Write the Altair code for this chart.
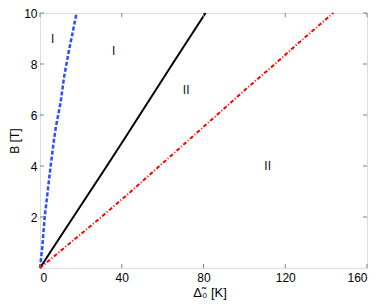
import altair as alt
import pandas as pd

# Blue dashed boundary
blue_x = [0, 1.1, 2.3, 5.2, 6.8, 7.7, 10.1, 11.8, 14.1, 17.9]
blue_y = [0, 0.8, 2.0, 4.0, 5.0, 5.5, 6.5, 7.5, 8.5, 10.0]
# Black solid boundary
black_x = [0, 8.1, 16.3, 24.5, 32.7, 40.8, 48.8, 56.8, 64.8, 72.9, 81.0]
black_y = [0, 1, 2, 3, 4, 5, 6, 7, 8, 9, 10]
# Red dash-dot boundary
red_x = [0, 15.0, 30.0, 44.5, 58.5, 72.5, 86.5, 100.5, 115.0, 129.0, 143.5]
red_y = [0, 1, 2, 3, 4, 5, 6, 7, 8, 9, 10]

# Region labels
lab_text = ["I", "I", "II", "II"]
lab_x = [6.2, 36.0, 71.5, 111.4]
lab_y = [9.0, 8.5, 7.0, 4.0]

x_ticks = [0, 40, 80, 120, 160]
y_ticks = [2, 4, 6, 8, 10]

W, H = 327, 255
FONT = "Liberation Sans"

xs = alt.Scale(domain=[0, 160], nice=False, zero=False)
ys = alt.Scale(domain=[0, 10], nice=False, zero=False)

def line_df(xv, yv):
    return pd.DataFrame({"x": xv, "y": yv, "o": list(range(len(xv)))})

xaxis = alt.Axis(values=x_ticks, title="Δ̃₀ [K]", ticks=False, domain=False, grid=False,
                 labelFont=FONT, labelFontSize=12, labelColor="black", labelPadding=4,
                 titleFont=FONT, titleFontSize=13, titleFontWeight="normal", titleColor="black",
                 titlePadding=3, titleX=W / 2 + 6)
yaxis = alt.Axis(values=y_ticks, title="B [T]", ticks=False, domain=False, grid=False,
                 labelFont=FONT, labelFontSize=12, labelColor="black", labelPadding=3,
                 titleFont=FONT, titleFontSize=12, titleFontWeight="normal", titleColor="black",
                 titlePadding=2)

blue = alt.Chart(line_df(blue_x, blue_y)).mark_line(
    color="#2b4cff", strokeWidth=2.5, strokeDash=[4, 2]
).encode(x=alt.X("x:Q", scale=xs, axis=xaxis), y=alt.Y("y:Q", scale=ys, axis=yaxis), order="o:Q")

black = alt.Chart(line_df(black_x, black_y)).mark_line(
    color="black", strokeWidth=2
).encode(x=alt.X("x:Q", scale=xs), y=alt.Y("y:Q", scale=ys), order="o:Q")

red = alt.Chart(line_df(red_x, red_y)).mark_line(
    color="#ff0000", strokeWidth=2, strokeDash=[4, 2, 1, 2]
).encode(x=alt.X("x:Q", scale=xs), y=alt.Y("y:Q", scale=ys), order="o:Q")

labels = alt.Chart(pd.DataFrame({"t": lab_text, "x": lab_x, "y": lab_y})).mark_text(
    font=FONT, fontSize=12, color="#111111"
).encode(x=alt.X("x:Q", scale=xs), y=alt.Y("y:Q", scale=ys), text="t:N")

tick_col = "#808080"
xt = pd.DataFrame({"v": x_ticks})
yt = pd.DataFrame({"v": y_ticks})
bt = alt.Chart(xt).mark_rule(color=tick_col, strokeWidth=1).encode(
    x=alt.X("v:Q", scale=xs), y=alt.value(H), y2=alt.value(H - 4))
tt = alt.Chart(xt).mark_rule(color=tick_col, strokeWidth=1).encode(
    x=alt.X("v:Q", scale=xs), y=alt.value(0), y2=alt.value(4))
lt = alt.Chart(yt).mark_rule(color=tick_col, strokeWidth=1).encode(
    y=alt.Y("v:Q", scale=ys), x=alt.value(0), x2=alt.value(4))
rt = alt.Chart(yt).mark_rule(color=tick_col, strokeWidth=1).encode(
    y=alt.Y("v:Q", scale=ys), x=alt.value(W), x2=alt.value(W - 4))

chart = alt.layer(blue, black, red, labels, bt, tt, lt, rt).properties(
    width=W, height=H,
    autosize=alt.AutoSizeParams(type="none"),
    padding={"left": 32, "top": 5, "right": 6, "bottom": 34},
).configure_view(stroke="#808080", strokeWidth=1.5).configure(background="white")

chart.save("out.html", embed_options={"renderer": "svg", "actions": False})
